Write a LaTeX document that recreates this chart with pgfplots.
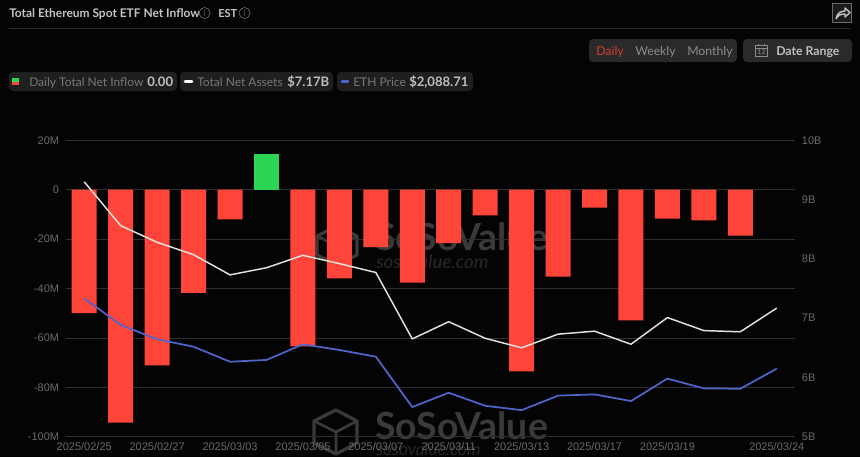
\documentclass[border=0pt]{standalone}
\usepackage{fontspec}
\setmainfont{Lato}
\newfontfamily\tickfont{Liberation Sans}
\usepackage{pgfplots}
\pgfplotsset{compat=1.18}
\usepackage{pgfplotstable}

\definecolor{bg}{HTML}{040404}
\definecolor{pill}{HTML}{1F1F1F}
\definecolor{btn}{HTML}{2A2A2A}
\definecolor{gridc}{HTML}{2F2F2F}
\definecolor{tickc}{HTML}{6A6A6A}
\definecolor{headc}{HTML}{C4C4C4}
\definecolor{mutec}{HTML}{777777}
\definecolor{btntxt}{HTML}{8C8C8C}
\definecolor{valc}{HTML}{BEBEBE}
\definecolor{barred}{HTML}{FF4539}
\definecolor{bargreen}{HTML}{2CD556}
\definecolor{assets}{HTML}{E2E2DC}
\definecolor{ethline}{HTML}{5065CC}
\definecolor{wmark}{HTML}{3A3A3A}
\definecolor{wmarkb}{HTML}{282828}

\newcommand{\fs}[1]{\fontsize{#1}{#1}\selectfont}

% day index, net inflow in $M
\pgfplotstableread{
x y
0 -50.0
1 -94.3
2 -71.1
3 -41.8
4 -12.0
6 -63.4
7 -35.9
8 -23.2
9 -37.6
10 -21.6
11 -10.4
12 -73.5
13 -35.2
14 -7.3
15 -52.9
16 -11.7
17 -12.4
18 -18.6
}\outflow
\pgfplotstableread{
x y
5 14.6
}\inflow

% total net assets in $B
\pgfplotstableread{
x y
0 9.30
1 8.56
2 8.28
3 8.07
4 7.73
5 7.85
6 8.06
7 7.92
8 7.77
9 6.65
10 6.94
11 6.66
12 6.50
13 6.73
14 6.78
15 6.56
16 7.01
17 6.79
18 6.77
19 7.17
}\netassets

% ETH price in $, its axis is hidden
\pgfplotstableread{
x y
0 2477
1 2330
2 2251
3 2210
4 2127
5 2137
6 2223
7 2192
8 2155
9 1877
10 1956
11 1884
12 1860
13 1940
14 1947
15 1910
16 2034
17 1980
18 1978
19 2089
}\ethprice

\pgfplotsset{chartbase/.style={
  scale only axis,
  width=546.75pt,
  height=222.3pt,
  xmin=-0.5, xmax=19.5,
  axis line style={draw=none},
  major tick length=0pt,
  clip=false,
}}

\begin{document}
\begin{tikzpicture}
% page, watermark (sits behind the bars)
\begin{scope}[x=0.75pt,y=-0.75pt]
\useasboundingbox (0,0) rectangle (860,457);
\fill[bg] (0,0) rectangle (860,457);

\draw[wmark,line width=2.4pt,line join=round]
  (337,226) -- (357,236) -- (357,255) -- (337,265) -- (317,255) -- (317,236) -- cycle;
\draw[wmark,line width=2pt] (317,236) -- (337,246) -- (357,236) (337,246) -- (337,265);
\node[wmark,anchor=base west,inner sep=0pt] at (375,250) {\fs{28}\bfseries SoSoValue};
\node[wmarkb,anchor=base west,inner sep=0pt] at (376,268) {\fs{14}\itshape sosovalue.com};

\draw[wmark,line width=2.4pt,line join=round]
  (336,410) -- (357,421) -- (357,443) -- (336,454) -- (314,443) -- (314,421) -- cycle;
\draw[wmark,line width=2pt] (314,421) -- (336,432) -- (357,421) (336,432) -- (336,454);
\node[wmark,anchor=base west,inner sep=0pt] at (375,439) {\fs{28}\bfseries SoSoValue};
\node[wmarkb,anchor=base west,inner sep=0pt] at (376,455) {\fs{13}\itshape sosovalue.com};
\end{scope}

% bars, left axis
\begin{axis}[
  chartbase,
  at={(49.5pt,-327.525pt)}, anchor=south west,
  ymin=-100, ymax=20,
  ytick={-100,-80,-60,-40,-20,0,20},
  yticklabels={-100M,-80M,-60M,-40M,-20M,0,20M},
  ymajorgrids, grid style={gridc,line width=0.6pt},
  xtick={0,2,4,6,8,10,12,14,16,19},
  xticklabels={2025/02/25,2025/02/27,2025/03/03,2025/03/05,2025/03/07,2025/03/11,2025/03/13,2025/03/17,2025/03/19,2025/03/24},
  tick label style={font=\tickfont\fs{8.25},text=tickc,inner sep=0pt},
  yticklabel style={anchor=east},
  xticklabel style={anchor=center},
  yticklabel shift=5pt,
  xticklabel shift=7.5pt,
  axis on top=false,
]
\addplot[ybar,bar width=18.75pt,bar shift=0pt,fill=barred,draw=none] table {\outflow};
\addplot[ybar,bar width=18.75pt,bar shift=0pt,fill=bargreen,draw=none] table {\inflow};
\end{axis}

% total net assets, right axis
\begin{axis}[
  chartbase,
  at={(49.5pt,-327.525pt)}, anchor=south west,
  ymin=5, ymax=10,
  axis y line*=right,
  axis x line=none,
  ytick={5,6,7,8,9,10},
  yticklabels={5B,6B,7B,8B,9B,10B},
  tick label style={font=\tickfont\fs{8.25},text=tickc,inner sep=0pt},
  yticklabel style={anchor=west},
  yticklabel shift=5pt,
]
\addplot[assets,line width=1.1pt,line join=round] table {\netassets};
\end{axis}

% ETH price
\begin{axis}[
  chartbase,
  at={(49.5pt,-327.525pt)}, anchor=south west,
  ymin=1713.4, ymax=3349,
  hide axis,
]
\addplot[ethline,line width=1.3pt,line join=round] table {\ethprice};
\end{axis}

% header and controls
\begin{scope}[x=0.75pt,y=-0.75pt]
\node[headc,anchor=base west,inner sep=0pt] at (9,17.5) {\fs{8.95}\bfseries Total Ethereum Spot ETF Net Inflow};
\draw[tickc,line width=0.5pt] (204.5,13) circle (5.5);
\node[tickc,inner sep=0pt] at (204.5,13) {\fs{6.5}i};
\node[headc,anchor=base west,inner sep=0pt] at (218,17) {\fs{8.3}\bfseries EST};
\draw[tickc,line width=0.5pt] (244.5,13) circle (5.5);
\node[tickc,inner sep=0pt] at (244.5,13) {\fs{6.5}i};
\draw[btn,line width=0.9pt] (9,28.5) -- (851,28.5);

% share button
\draw[tickc,line width=0.6pt,fill=btn!60!bg] (832.5,3.5) rectangle (851.5,22.5);
\draw[valc,line width=1.1pt,line join=round]
  (836,19) .. controls (837,13) and (841,11) .. (845,11) -- (845,8) -- (850,12.5) -- (845,17) -- (845,14) .. controls (841,14) and (838,15) .. (836,19);

% period buttons
\fill[btn,rounded corners=3pt] (589,39) rectangle (737,62);
\node[anchor=base west,inner sep=0pt,text={rgb,255:red,208;green,64;blue,44}] at (596,55) {\fs{9.2}Daily};
\node[btntxt,anchor=base west,inner sep=0pt] at (635,55) {\fs{9.2}Weekly};
\node[btntxt,anchor=base west,inner sep=0pt] at (687,55) {\fs{9.2}Monthly};
\fill[btn,rounded corners=3pt] (743,39) rectangle (852,62);
\draw[btntxt,line width=0.7pt] (755.5,45) rectangle (767.5,56.5);
\draw[btntxt,line width=0.7pt] (755.5,48) -- (767.5,48) (758.5,43.5) -- (758.5,46) (764.5,43.5) -- (764.5,46);
\node[btntxt,inner sep=0pt] at (761.5,52.5) {\fs{5}12};
\node[valc,anchor=base west,inner sep=0pt] at (776,55) {\fs{9.2}\bfseries Date Range};

% legend pills
\fill[pill,rounded corners=3pt] (9,72) rectangle (177,91);
\fill[bargreen] (12,78) rectangle (19,81.5);
\fill[barred] (12,81.5) rectangle (19,85);
\node[mutec,anchor=base west,inner sep=0pt] at (29,86) {\fs{9}Daily Total Net Inflow};
\node[valc,anchor=base west,inner sep=0pt] at (147,86) {\fs{9.8}\bfseries 0.00};

\fill[pill,rounded corners=3pt] (180,72) rectangle (333,91);
\draw[white,line width=2pt,line cap=round] (185,81.5) -- (192,81.5);
\node[mutec,anchor=base west,inner sep=0pt] at (197,86) {\fs{9}Total Net Assets};
\node[valc,anchor=base west,inner sep=0pt] at (287,86) {\fs{9.8}\bfseries \$7.17B};

\fill[pill,rounded corners=3pt] (337,72) rectangle (473,91);
\draw[ethline,line width=2pt,line cap=round] (342,81.5) -- (348,81.5);
\node[mutec,anchor=base west,inner sep=0pt] at (353,86) {\fs{9}ETH Price};
\node[valc,anchor=base west,inner sep=0pt] at (409,86) {\fs{9.8}\bfseries \$2,088.71};
\end{scope}
\end{tikzpicture}
\end{document}
